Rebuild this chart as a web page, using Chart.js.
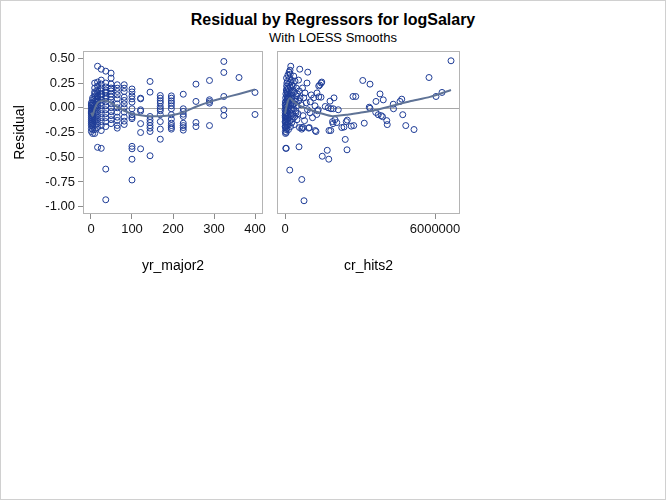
<!DOCTYPE html>
<html>
<head>
<meta charset="utf-8">
<script src="https://cdn.jsdelivr.net/npm/chart.js@4"></script>
<style>
  body { margin: 0; background: #fff; }
  #page { position: relative; width: 666px; height: 500px; overflow: hidden; font-family: 'Liberation Sans', Arial, sans-serif; }
  #edge { position: absolute; left: 0; top: 0; width: 666px; height: 500px; box-sizing: border-box; border: 1px solid #d0d0d0; pointer-events: none; }
  .ttl { position: absolute; left: 0; width: 666px; text-align: center; color: #000; }
  canvas { position: absolute; top: 0; }
</style>
</head>
<body>
<div id="page">
  <div class="ttl" style="top:10px;line-height:20px;font-size:16px;font-weight:bold;">Residual by Regressors for logSalary</div>
  <div class="ttl" style="top:30px;line-height:16px;font-size:13px;">With LOESS Smooths</div>
  <canvas id="leftPanel" width="270" height="290" style="left:0"></canvas>
  <canvas id="rightPanel" width="200" height="290" style="left:270px"></canvas>
  <div id="edge"></div>
</div>
<script>
/* ---- data ---- */

// years in majors squared, one column of residuals per level
const yrLevels = [1, 4, 9, 16, 25, 36, 49, 64, 81, 100, 121, 144, 169, 196, 225, 256, 289, 324, 361, 400];
const residByYear = [
    [0.05, 0.02, 0.0, -0.02, -0.04, -0.06, -0.08, -0.1, -0.12, -0.14, -0.16, -0.18, -0.21, -0.24, 0.03, -0.05],
    [0.08, 0.05, 0.03, 0.01, -0.01, -0.03, -0.05, -0.07, -0.09, -0.11, -0.13, -0.15, -0.17, -0.19, -0.22, -0.26, 0.1, -0.02],
    [0.25, 0.2, 0.16, 0.12, 0.09, 0.06, 0.03, 0.0, -0.03, -0.06, -0.1, -0.14, -0.18, -0.22, -0.26, 0.14, -0.12],
    [0.42, 0.26, 0.22, 0.18, 0.15, 0.12, 0.09, 0.06, 0.03, 0.0, -0.04, -0.08, -0.12, -0.16, -0.2, -0.4, 0.11, 0.07],
    [0.39, 0.28, 0.24, 0.2, 0.17, 0.14, 0.11, 0.08, 0.05, 0.02, -0.02, -0.06, -0.1, -0.14, -0.18, -0.23, -0.41, 0.13],
    [0.37, 0.25, 0.21, 0.18, 0.15, 0.12, 0.09, 0.06, 0.02, -0.02, -0.06, -0.1, -0.14, -0.19, -0.62, -0.93, 0.16],
    [0.35, 0.3, 0.24, 0.2, 0.17, 0.14, 0.11, 0.08, 0.04, 0.0, -0.04, -0.08, -0.12, -0.16, 0.19],
    [0.233, 0.198, 0.165, 0.131, 0.091, 0.04, 0.0, -0.044, -0.095, -0.128, -0.179, -0.206],
    [0.233, 0.198, 0.165, 0.107, 0.074, 0.04, 0.0, -0.044, -0.095, -0.135, -0.169],
    [0.19, 0.16, 0.12, 0.09, 0.057, -0.01, -0.07, -0.095, -0.11, -0.39, -0.415, -0.52, -0.73],
    [0.097, 0.09, -0.02, -0.034, -0.16, -0.25, -0.415],
    [0.266, 0.158, -0.088, -0.12, -0.149, -0.18, -0.206, -0.24, -0.485],
    [0.124, 0.097, 0.07, 0.047, 0.013, -0.01, -0.03, -0.07, -0.14, -0.216, -0.318],
    [0.12, 0.097, 0.07, 0.047, 0.02, -0.01, -0.07, -0.115, -0.156, -0.18, -0.2, -0.216],
    [0.137, -0.01, -0.037, -0.065, -0.088, -0.156, -0.18, -0.2, -0.226],
    [0.239, 0.064, -0.149, -0.19],
    [0.276, 0.081, 0.064, 0.047, -0.18],
    [0.468, 0.357, 0.114, -0.02, -0.078],
    [0.306],
    [0.155, -0.068]
];
const loessYr = [-0.05, -0.08, -0.01, 0.05, 0.07, 0.07, 0.05, 0.01, -0.03, -0.06, -0.075, -0.085, -0.085, -0.075, -0.045, 0.01, 0.06, 0.1, 0.14, 0.185];

// career hits squared vs residual
const hitsPoints = [
    [3000, -0.02], [5000, -0.08], [6000, -0.14], [8000, -0.19], [9000, 0.03], [10000, -0.05], [12000, -0.1], [14000, -0.24],
    [15000, -0.15], [16000, 0.06], [18000, -0.2], [20000, -0.26], [22000, 0.0], [25000, -0.07], [27000, 0.1], [28000, -0.12],
    [30000, -0.18], [30000, -0.41], [32000, 0.03], [35000, -0.03], [36000, 0.14], [38000, -0.09], [40000, -0.14], [42000, -0.22],
    [45000, 0.06], [48000, -0.05], [50000, -0.25], [50000, -0.41], [52000, 0.18], [55000, 0.01], [58000, -0.11], [60000, -0.17],
    [62000, 0.3], [65000, 0.22], [68000, 0.12], [70000, -0.02], [72000, -0.21], [75000, 0.25], [78000, 0.08], [80000, -0.08],
    [82000, 0.16], [85000, 0.04], [88000, -0.14], [90000, 0.2], [92000, -0.05], [95000, 0.1], [98000, -0.18], [100000, 0.27],
    [102000, 0.02], [105000, -0.11], [110000, 0.14], [112000, -0.03], [115000, 0.33], [118000, 0.06], [120000, -0.16], [125000, 0.19],
    [128000, -0.07], [130000, 0.1], [135000, 0.0], [140000, -0.22], [145000, 0.24], [150000, 0.12], [155000, -0.1], [160000, 0.04],
    [165000, 0.36], [170000, 0.17], [175000, -0.04], [180000, 0.3], [185000, 0.08], [190000, -0.63], [195000, -0.13], [200000, 0.38],
    [205000, 0.21], [210000, 0.34], [215000, 0.02], [220000, 0.13], [225000, -0.19], [230000, 0.42], [235000, 0.26], [240000, 0.05],
    [245000, -0.08], [250000, 0.15], [255000, 0.28], [260000, -0.02], [265000, 0.09], [270000, -0.15], [280000, 0.23], [285000, 0.11],
    [290000, -0.06], [300000, 0.18], [310000, 0.03], [320000, -0.11],
    [330000, 0.22], [340000, -0.01], [350000, 0.32], [360000, 0.04], [370000, -0.17], [380000, 0.16], [390000, -0.09], [400000, 0.27],
    [410000, 0.07], [420000, 0.09], [430000, -0.03], [440000, -0.05], [450000, 0.2], [460000, 0.12], [470000, 0.02], [480000, -0.12],
    [500000, 0.14], [520000, -0.06], [540000, 0.28], [550000, 0.07], [560000, -0.395], [570000, 0.17], [580000, -0.2], [590000, 0.39],
    [600000, 0.1],
    [650000, 0.03], [670000, -0.216], [670000, -0.725], [680000, -0.2], [700000, 0.2], [720000, -0.08], [730000, -0.2], [750000, 0.1],
    [760000, -0.94], [780000, -0.13], [800000, 0.15], [850000, 0.05], [880000, 0.25], [900000, -0.02], [910000, 0.36], [950000, -0.206],
    [970000, -0.2], [1000000, -0.05], [1010000, 0.06], [1050000, 0.13], [1100000, -0.1], [1150000, 0.1], [1200000, 0.02], [1210000, -0.23],
    [1240000, -0.24], [1270000, -0.068], [1280000, 0.15], [1300000, -0.03], [1330000, -0.02], [1350000, 0.11], [1350000, 0.22], [1390000, 0.23],
    [1440000, 0.107], [1450000, 0.25], [1470000, 0.26], [1490000, -0.49],
    [1610000, 0.013], [1690000, -0.43], [1730000, 0.0], [1750000, -0.52], [1760000, -0.23], [1800000, 0.067], [1830000, -0.23], [1840000, -0.01],
    [1900000, -0.14], [1920000, -0.16], [1930000, -0.01], [1960000, 0.1], [2000000, -0.12], [2070000, -0.15], [2130000, -0.02], [2270000, -0.2],
    [2360000, -0.195], [2410000, -0.32], [2450000, -0.14], [2480000, -0.425], [2490000, -0.125], [2650000, -0.186], [2720000, 0.114], [2750000, -0.18],
    [2830000, 0.114], [3110000, 0.276], [3170000, -0.156], [3370000, 0.006], [3400000, 0.239], [3400000, -0.005], [3630000, -0.047], [3640000, 0.064],
    [3730000, -0.07], [3800000, 0.14], [3850000, -0.08], [3900000, -0.09], [3930000, 0.08], [4070000, -0.13], [4090000, -0.17], [4330000, 0.036],
    [4340000, -0.01], [4600000, 0.064], [4670000, 0.087], [4710000, -0.07], [4830000, -0.18], [5160000, -0.22], [5760000, 0.306], [6040000, 0.114],
    [6280000, 0.155], [6640000, 0.475]
];
const loessHitsX = [0, 50000, 120000, 200000, 350000, 600000, 1000000, 1500000, 1900000, 2500000, 3000000, 3500000, 4300000, 5000000, 5800000, 6640000];
const loessHitsY = [-0.06, 0.0, 0.07, 0.1, 0.06, 0.02, -0.02, -0.06, -0.085, -0.07, -0.05, -0.03, 0.02, 0.065, 0.11, 0.18];

// axis ticks
const residTicks = [-1.0, -0.75, -0.5, -0.25, 0.0, 0.25, 0.5];
const yrTicks = [0, 100, 200, 300, 400];
const hitsTicks = [0, 6000000];

/* ---- styling ---- */
const MARKER = '#1E3C96';
const FIT = '#5F7396';
const FRAME = '#B4B4B4';
const FONT = "'Liberation Sans', Arial, sans-serif";

Chart.defaults.font.family = FONT;
Chart.defaults.color = '#111';

// frame around the plot area + zero reference line
const panelFrame = {
    id: 'panelFrame',
    beforeDatasetsDraw(chart) {
        const { ctx, chartArea: a, scales } = chart;
        const y0 = Math.round(scales.y.getPixelForValue(0)) + 0.5;
        ctx.save();
        ctx.strokeStyle = '#A8A8A8';
        ctx.lineWidth = 1;
        ctx.beginPath();
        ctx.moveTo(a.left, y0);
        ctx.lineTo(a.right, y0);
        ctx.stroke();
        ctx.restore();
    },
    afterDraw(chart) {
        const { ctx, chartArea: a } = chart;
        ctx.save();
        ctx.strokeStyle = FRAME;
        ctx.lineWidth = 1;
        ctx.strokeRect(Math.round(a.left) + 0.5, Math.round(a.top) + 0.5,
            Math.round(a.right - a.left) - 1, Math.round(a.bottom - a.top) - 1);
        ctx.restore();
    }
};

function scatterSet(points) {
    return {
        type: 'scatter',
        data: points,
        pointStyle: 'circle',
        pointRadius: 3,
        pointBorderWidth: 1,
        pointBorderColor: MARKER,
        pointBackgroundColor: 'rgba(0,0,0,0)',
        showLine: false
    };
}

function fitSet(points) {
    return {
        type: 'line',
        data: points,
        borderColor: FIT,
        borderWidth: 2,
        pointRadius: 0,
        tension: 0.2,
        fill: false
    };
}

function xAxis(min, max, ticks, title, fmt) {
    return {
        type: 'linear',
        min: min,
        max: max,
        afterBuildTicks: s => { s.ticks = ticks.map(v => ({ value: v })); },
        afterFit: s => { s.height = 76; },
        grid: { display: true, drawOnChartArea: false, drawTicks: true, tickLength: 5, color: '#8c8c8c' },
        border: { display: false },
        ticks: { autoSkip: false, maxRotation: 0, padding: 3, font: { size: 13 }, callback: fmt },
        title: { display: true, text: title, font: { size: 14 }, color: '#000', padding: { top: 15, bottom: 15 } }
    };
}

function yAxis(showLabels) {
    return {
        type: 'linear',
        display: showLabels,
        min: -1.074,
        max: 0.574,
        afterBuildTicks: s => { s.ticks = residTicks.map(v => ({ value: v })); },
        afterFit: s => { s.width = showLabels ? 83 : 0; },
        grid: { display: true, drawOnChartArea: false, drawTicks: true, tickLength: 5, color: '#8c8c8c' },
        border: { display: false },
        ticks: { padding: 3, font: { size: 13 }, callback: v => v.toFixed(2) },
        title: { display: true, text: 'Residual', font: { size: 14 }, color: '#000', padding: { top: 12, bottom: 4 } }
    };
}

function baseOptions(padding, xScale, yScale) {
    return {
        responsive: false,
        devicePixelRatio: 1,
        animation: false,
        layout: { padding: padding },
        plugins: { legend: { display: false }, tooltip: { enabled: false }, title: { display: false } },
        scales: { x: xScale, y: yScale }
    };
}

document.addEventListener('DOMContentLoaded', function() {
    const yrPoints = [];
    yrLevels.forEach((lvl, i) => {
        residByYear[i].forEach(r => yrPoints.push({ x: lvl, y: r }));
    });
    const yrFit = yrLevels.map((lvl, i) => ({ x: lvl, y: loessYr[i] }));

    new Chart(document.getElementById('leftPanel'), {
        data: { datasets: [fitSet(yrFit), scatterSet(yrPoints)] },
        options: baseOptions({ left: 0, top: 51, right: 7, bottom: 0 },
            xAxis(-19.5, 419.5, yrTicks, 'yr_major2', v => String(v)),
            yAxis(true)),
        plugins: [panelFrame]
    });

    const hitsScatter = hitsPoints.map(p => ({ x: p[0], y: p[1] }));
    const hitsFit = loessHitsX.map((x, i) => ({ x: x, y: loessHitsY[i] }));

    new Chart(document.getElementById('rightPanel'), {
        data: { datasets: [fitSet(hitsFit), scatterSet(hitsScatter)] },
        options: baseOptions({ left: 7, top: 51, right: 10, bottom: 0 },
            xAxis(-320000, 7000000, hitsTicks, 'cr_hits2', v => String(v)),
            yAxis(false)),
        plugins: [panelFrame]
    });
});
</script>
</body>
</html>
